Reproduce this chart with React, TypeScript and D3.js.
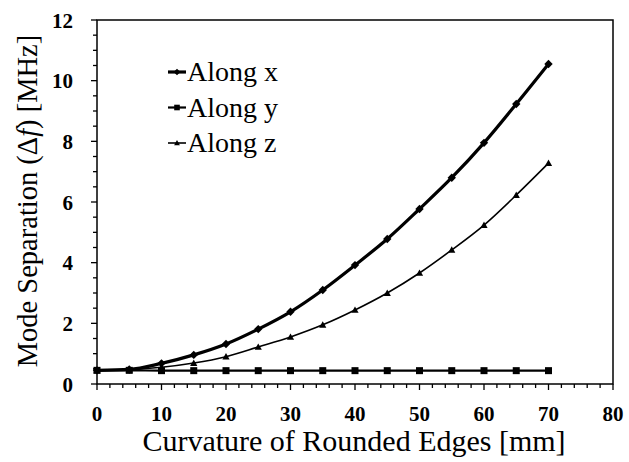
import React from "react";
import * as d3 from "d3";

const curvature = [0, 5, 10, 15, 20, 25, 30, 35, 40, 45, 50, 55, 60, 65, 70];
const alongX = [0.45, 0.48, 0.68, 0.96, 1.32, 1.81, 2.38, 3.1, 3.92, 4.78, 5.77, 6.8, 7.95, 9.23, 10.55];
const alongY = [0.45, 0.45, 0.44, 0.44, 0.44, 0.44, 0.44, 0.44, 0.44, 0.44, 0.44, 0.44, 0.44, 0.44, 0.44];
const alongZ = [0.45, 0.47, 0.55, 0.69, 0.9, 1.22, 1.55, 1.95, 2.44, 3.0, 3.66, 4.42, 5.24, 6.23, 7.28];
const seriesNames = ["Along x", "Along y", "Along z"];
const xTicks = [0, 10, 20, 30, 40, 50, 60, 70, 80];
const yTicks = [0, 2, 4, 6, 8, 10, 12];

const W = 629, H = 462;
const m = { left: 97, top: 20, right: 613, bottom: 384 };

export default function App() {
  const x = d3.scaleLinear().domain([0, 80]).range([m.left, m.right]);
  const y = d3.scaleLinear().domain([0, 12]).range([m.bottom, m.top]);
  const line = d3.line<number>().x((_, i) => x(curvature[i])).y((v) => y(v)).curve(d3.curveMonotoneX);
  const font = "'Liberation Serif', 'DejaVu Serif', 'Times New Roman', serif";
  const xMinor = d3.range(0, 80.01, 2);
  const yMinor = d3.range(0, 12.01, 0.5);
  const series = [
    { name: seriesNames[0], vals: alongX, w: 3.2, marker: "diamond" },
    { name: seriesNames[1], vals: alongY, w: 2.2, marker: "square" },
    { name: seriesNames[2], vals: alongZ, w: 1.6, marker: "triangle" },
  ];
  const marker = (type: string, cx: number, cy: number, key: any, s = 1) => {
    if (type === "diamond") {
      const r = 4.2 * s;
      return <path key={key} d={`M${cx},${cy - r}L${cx + r},${cy}L${cx},${cy + r}L${cx - r},${cy}Z`} fill="#000" />;
    }
    if (type === "square") {
      const r = 3.5 * s;
      return <rect key={key} x={cx - r} y={cy - r} width={2 * r} height={2 * r} fill="#000" />;
    }
    const r = 3.6 * s;
    return <path key={key} d={`M${cx},${cy - r}L${cx + r},${cy + r * 0.8}L${cx - r},${cy + r * 0.8}Z`} fill="#000" />;
  };
  return (
    <svg width={W} height={H} style={{ position: "absolute", left: 0, top: 0, background: "#fff", fontFamily: font }}>
      <rect x={0} y={0} width={W} height={H} fill="#fff" />
      <rect x={m.left} y={m.top} width={m.right - m.left} height={m.bottom - m.top} fill="none" stroke="#000" strokeWidth={1.5} />
      {yMinor.map((v, i) => (
        <line key={"ym" + i} x1={m.left - (v % 2 === 0 ? 6 : 4)} x2={m.left} y1={y(v)} y2={y(v)} stroke="#000" strokeWidth={1.3} />
      ))}
      {xMinor.map((v, i) => (
        <line key={"xm" + i} x1={x(v)} x2={x(v)} y1={m.bottom} y2={m.bottom + (v % 10 === 0 ? 6 : 4)} stroke="#000" strokeWidth={1.3} />
      ))}
      {yTicks.map((v) => (
        <text key={"yt" + v} x={73} y={y(v) + 7.5} textAnchor="end" fontFamily={font} fontSize={21} fontWeight="bold">{v}</text>
      ))}
      {xTicks.map((v) => (
        <text key={"xt" + v} x={x(v)} y={421} textAnchor="middle" fontFamily={font} fontSize={21} fontWeight="bold">{v}</text>
      ))}
      <text x={354} y={451} textAnchor="middle" fontFamily={font} fontSize={30}>Curvature of Rounded Edges [mm]</text>
      <text transform={`translate(37,${201}) rotate(-90)`} textAnchor="middle" fontFamily={font} fontSize={28.5}>
        Mode Separation (Δ<tspan fontStyle="italic">f</tspan>) [MHz]
      </text>
      {series.map((s, si) => (
        <g key={"s" + si}>
          <path d={line(s.vals) || ""} fill="none" stroke="#000" strokeWidth={s.w} />
          {s.vals.map((v, i) => marker(s.marker, x(curvature[i]), y(v), i))}
        </g>
      ))}
      {series.map((s, si) => {
        const ly = 72 + si * 35.5;
        return (
          <g key={"l" + si}>
            <line x1={168} x2={186} y1={ly} y2={ly} stroke="#000" strokeWidth={s.w} />
            {marker(s.marker, 177, ly, "lm" + si, 0.8)}
            <text x={187} y={ly + 9} fontFamily={font} fontSize={28}>{s.name}</text>
          </g>
        );
      })}
    </svg>
  );
}
